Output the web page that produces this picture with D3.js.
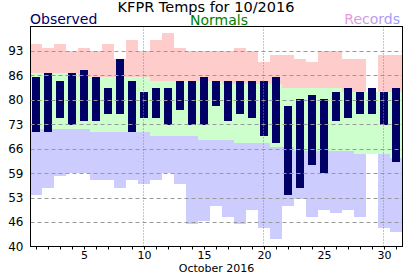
<!DOCTYPE html>
<html>
<head>
	<meta charset="utf-8">
	<style>
		body { margin: 0; background: #fff; }
		text { font-family: 'DejaVu Sans', sans-serif; }
	</style>
</head>
<body>

	<div id="graph"></div>

	<script src="https://cdnjs.cloudflare.com/ajax/libs/d3/7.8.5/d3.min.js"></script>

	<script>
		const days = d3.range(1, 32);

		const obsHigh = [86, 87, 85, 87, 88, 86, 83, 91, 85, 82, 83, 83, 85, 85, 86, 85,
			85, 85, 85, 85, 86, 78, 80, 81, 80, 82, 83, 82, 83, 82, 83];
		const obsLow = [71, 71, 75, 73, 74, 74, 76, 76, 71, 75, 75, 73, 77, 73, 73, 78,
			74, 76, 75, 70, 68, 54, 56, 62, 60, 74, 75, 76, 76, 73, 63];

		const normHigh = [87, 87, 87, 87, 86, 86, 86, 86, 86, 86, 85, 85, 85, 85, 85, 85,
			84, 84, 84, 84, 84, 83, 83, 83, 83, 83, 82, 82, 82, 82, 82];
		const normLow = [72, 72, 72, 72, 72, 71, 71, 71, 71, 71, 70, 70, 70, 70, 69, 69,
			69, 68, 68, 68, 67, 67, 66, 66, 66, 66, 66, 65, 65, 65, 64];

		const recHigh = [95, 94, 95, 93, 94, 93, 95, 91, 96, 93, 96, 98, 94, 93, 93, 93,
			93, 94, 93, 90, 92, 92, 91, 90, 93, 93, 91, 91, null, 92, 92];
		const recLow = [54, 56, 59, 60, 60, 58, 58, 56, 58, 57, 58, 60, 57, 46, 47, 51,
			48, 46, 50, 45, 42, 51, 53, 48, 50, 49, 50, 48, null, 45, 44];

		const yTickLabels = ['40', '46', '53', '59', '66', '73', '80', '86', '93'];
		const xTickLabels = [5, 10, 15, 20, 25, 30];
		const xGridDays = [10, 20, 30];

		const W = 412;
		const H = 276;
		const plot = { left: 30.5, right: 402.5, top: 26.5, bottom: 246.5 };
		const yMin = 40;
		const yMax = 99.7;

		const svg = d3.select('#graph')
			.append('svg')
			.attr('width', W)
			.attr('height', H);

		const x = d3.scaleLinear()
			.domain([0.5, 31.5])
			.range([plot.left - 0.5, plot.right - 0.5]);

		const y = d3.scaleLinear()
			.domain([yMin, yMax])
			.range([plot.bottom, plot.top]);

		const yTickVals = yTickLabels.map((d, i) => yMin + i * (yMax - yMin) / 9);

		const rows = days.map((d, i) => ({
			day: d,
			oh: obsHigh[i], ol: obsLow[i],
			nh: normHigh[i], nl: normLow[i],
			rh: recHigh[i], rl: recLow[i]
		}));

		const bands = svg.append('g').attr('shape-rendering', 'crispEdges');

		const band = (data, top, bot, color) => {
			bands.selectAll(null)
				.data(data)
				.enter()
				.append('rect')
				.attr('x', d => x(d.day - 0.5))
				.attr('width', d => x(d.day + 0.5) - x(d.day - 0.5))
				.attr('y', d => y(top(d)))
				.attr('height', d => y(bot(d)) - y(top(d)))
				.attr('fill', color);
		};

		const withRec = rows.filter(d => d.rh !== null);
		band(withRec, d => d.rh, d => d.nh, '#ffcccc');
		band(rows, d => d.nh, d => d.nl, '#ccffcc');
		band(withRec, d => d.nl, d => d.rl, '#ccccff');

		svg.append('g')
			.attr('shape-rendering', 'crispEdges')
			.selectAll('rect')
			.data(rows)
			.enter()
			.append('rect')
			.attr('x', d => x(d.day) - 4)
			.attr('width', 8)
			.attr('y', d => y(d.oh))
			.attr('height', d => y(d.ol) - y(d.oh))
			.attr('fill', '#000066');

		// grid lines on top of the bars
		svg.append('g')
			.selectAll('line')
			.data(yTickVals.slice(1))
			.enter()
			.append('line')
			.attr('x1', plot.left)
			.attr('x2', plot.right)
			.attr('y1', d => Math.round(y(d)) + 0.5)
			.attr('y2', d => Math.round(y(d)) + 0.5)
			.attr('stroke', '#999')
			.attr('stroke-dasharray', '4,3');

		svg.append('g')
			.selectAll('line')
			.data(xGridDays)
			.enter()
			.append('line')
			.attr('x1', d => Math.round(x(d)) - 0.5)
			.attr('x2', d => Math.round(x(d)) - 0.5)
			.attr('y1', plot.top)
			.attr('y2', plot.bottom)
			.attr('stroke', '#888')
			.attr('stroke-dasharray', '1,2');

		svg.append('rect')
			.attr('x', plot.left)
			.attr('y', plot.top)
			.attr('width', plot.right - plot.left)
			.attr('height', plot.bottom - plot.top)
			.attr('fill', 'none')
			.attr('stroke', '#000');

		const xAxis = d3.axisBottom(x)
			.tickValues(days)
			.tickSize(3)
			.tickSizeOuter(0)
			.tickFormat(d => xTickLabels.includes(d) ? d : '');

		const gx = svg.append('g')
			.attr('transform', `translate(0, ${plot.bottom})`)
			.call(xAxis);
		gx.select('.domain').remove();
		gx.selectAll('line').attr('stroke', '#000');
		gx.selectAll('text')
			.attr('fill', '#000')
			.attr('y', 5)
			.style('font-family', "'DejaVu Sans', sans-serif")
			.style('font-size', '11px');

		const yAxis = d3.axisLeft(y)
			.tickValues(yTickVals)
			.tickSize(0)
			.tickPadding(7)
			.tickFormat((d, i) => yTickLabels[i]);

		const gy = svg.append('g')
			.attr('transform', `translate(${plot.left}, 0)`)
			.call(yAxis);
		gy.select('.domain').remove();
		gy.selectAll('text')
			.attr('fill', '#000')
			.style('font-family', "'DejaVu Sans', sans-serif")
			.style('font-size', '12px');

		svg.append('text')
			.attr('x', (plot.left + plot.right) / 2)
			.attr('y', 272)
			.attr('text-anchor', 'middle')
			.style('font-size', '11px')
			.text('October 2016');

		svg.append('text')
			.attr('x', 206)
			.attr('y', 11.5)
			.attr('text-anchor', 'middle')
			.style('font-size', '14.5px')
			.text('KFPR Temps for 10/2016');

		const grad = svg.append('defs')
			.append('linearGradient')
			.attr('id', 'recgrad')
			.attr('gradientUnits', 'userSpaceOnUse')
			.attr('x1', 343).attr('x2', 400)
			.attr('y1', 0).attr('y2', 0);
		grad.append('stop').attr('offset', 0).attr('stop-color', '#ee99dd');
		grad.append('stop').attr('offset', 1).attr('stop-color', '#9999ff');

		svg.append('text')
			.attr('x', 30)
			.attr('y', 24)
			.attr('fill', '#000066')
			.style('font-size', '14px')
			.text('Observed');

		svg.append('text')
			.attr('x', 219)
			.attr('y', 24.5)
			.attr('text-anchor', 'middle')
			.attr('fill', '#008000')
			.style('font-size', '14px')
			.text('Normals');

		svg.append('text')
			.attr('x', 400)
			.attr('y', 24)
			.attr('text-anchor', 'end')
			.attr('fill', 'url(#recgrad)')
			.style('font-size', '14px')
			.text('Records');
	</script>

</body>
</html>
